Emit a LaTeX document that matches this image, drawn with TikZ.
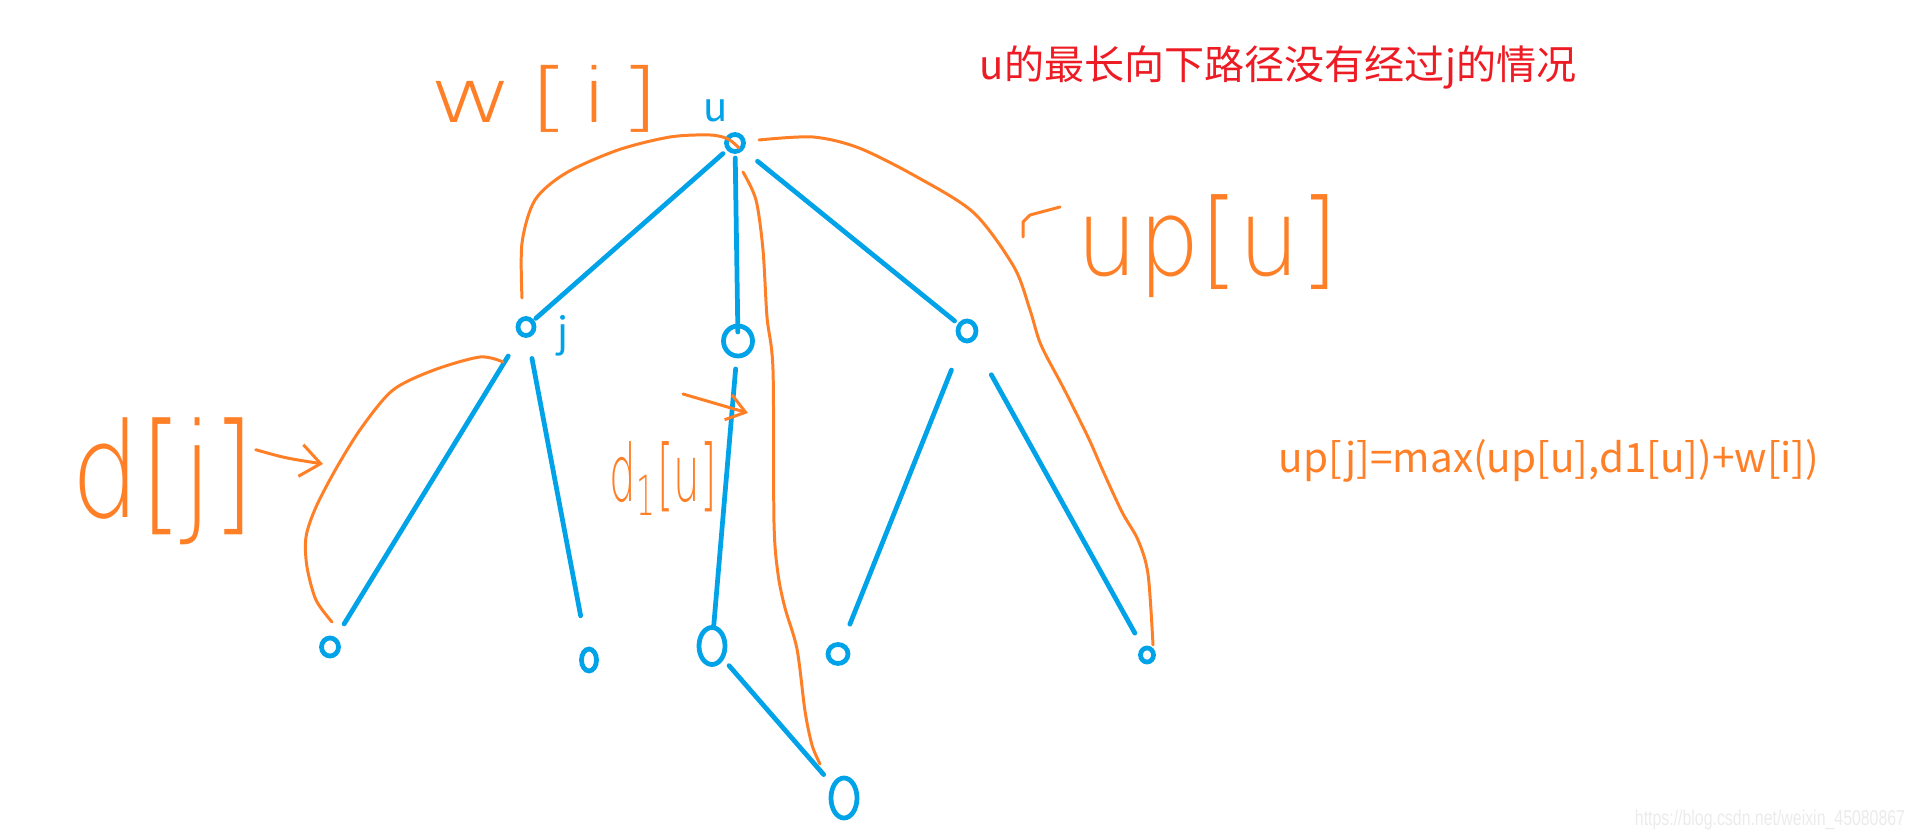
\documentclass[tikz,border=0pt]{standalone}
\usepackage{fontspec}
\usepackage{graphicx}
\usepackage{tikz}
\usetikzlibrary{arrows.meta,shapes.geometric}
\newfontfamily\cjk{Noto Sans CJK SC}
\newfontfamily\handfont{DejaVuSans-ExtraLight.ttf}
\newfontfamily\markfont{Liberation Sans}
\definecolor{treeblue}{HTML}{00A2E8}
\definecolor{penorange}{HTML}{FF7F27}
\definecolor{titlered}{HTML}{ED1C24}
\definecolor{markgray}{HTML}{EBEBEB}

\begin{document}
\begin{tikzpicture}[x=0.01cm, y=-0.01cm,
  vertex/.style={ellipse, draw=treeblue, line width=1.35pt, inner sep=0pt},
  edge/.style={treeblue, line width=1.35pt, line cap=round},
  pen/.style={penorange, line width=0.85pt, line cap=round, line join=round},
  hand/.style={penorange, inner sep=0pt, font=\handfont},
  txt/.style={inner sep=0pt, font=\cjk\fontsize{11.4pt}{13pt}\selectfont}]
  \useasboundingbox (0,0) rectangle (1915,837);
  % tree nodes
  \node[vertex, minimum width=1.7mm, minimum height=1.7mm] (u) at (735,143) {};
  \node[vertex, minimum width=1.6mm, minimum height=1.7mm] (j) at (526,327) {};
  \node[vertex, minimum width=2.9mm, minimum height=3.0mm] (mid) at (738,341) {};
  \node[vertex, minimum width=1.8mm, minimum height=2.0mm] (rgt) at (967,331) {};
  \node[vertex, minimum width=1.7mm, minimum height=1.8mm] (la) at (330,647) {};
  \node[vertex, minimum width=1.5mm, minimum height=2.2mm] (lb) at (589,660) {};
  \node[vertex, minimum width=2.6mm, minimum height=3.7mm] (mc) at (712,646) {};
  \node[vertex, minimum width=2.6mm, minimum height=4.0mm] (gc) at (844,798) {};
  \node[vertex, minimum width=2.0mm, minimum height=1.9mm] (ra) at (838,654) {};
  \node[vertex, minimum width=1.3mm, minimum height=1.4mm] (rb) at (1147,655) {};
  \node[txt, treeblue, anchor=base] (ulab) at (716,122) {u};
  \node[txt, treeblue, anchor=base] (jlab) at (563,347) {j};
  % tree edges
  \foreach \a/\b/\s/\e in {u/j/1.6mm/1.3mm, u/mid/1.5mm/0.9mm, u/rgt/2.9mm/1.6mm,
      j/la/3.4mm/2.7mm, j/lb/3.2mm/4.5mm, mid/mc/2.8mm/2.1mm, mc/gc/2.6mm/3.1mm,
      rgt/ra/4.2mm/3.2mm, rgt/rb/5.0mm/2.5mm}
    \draw[edge, shorten <=\s, shorten >=\e] (\a.center) -- (\b.center);
  % orange strokes
  \draw[pen] plot[smooth] coordinates {(522,298) (522,243) (535,200) (566,173)
    (618,150) (670,137) (710,135) (728,139) (739,148)};
  \draw[pen] plot[smooth] coordinates {(759,140) (813,137) (859,148) (917,177)
    (974,213) (1014,267) (1030,310) (1041,345) (1064,389) (1088,437) (1103,471)
    (1122,512) (1138,540) (1148,574) (1153,645)};
  \draw[pen] plot[smooth] coordinates {(743,172) (756,200) (763,250) (767,317)
    (773,370) (774,523) (778,574) (785,608) (797,649) (805,711) (812,745) (820,764)};
  \draw[pen] plot[smooth] coordinates {(332,622) (316,600) (307,567) (306,537)
    (316,507) (337,467) (362,427) (393,390) (434,370) (480,357) (503,362)};
  \draw[pen] (1023,237) -- (1023,222) -- (1030,215) -- (1060,207);
  % handwritten labels
  \node[hand] (wi) at (545,98.5) {\resizebox*{23mm}{6.7mm}{w\hspace{0.15em}[\hspace{0.1em}i\hspace{0.1em}]}};
  \node[hand] (upu) at (1207.5,246.5) {\resizebox*{26.1mm}{10.3mm}{up[u]}};
  \node[hand] (dj) at (163.5,481.5) {\resizebox*{18.3mm}{12.7mm}{d[j]}};
  \node[hand] (du) at (663.5,478.5) {\resizebox*{10.7mm}{7.3mm}{d\textsubscript{1}[u]}};
  \coordinate (djtip) at (323,464);
  \coordinate (dufrom) at (683,394);
  \coordinate (duto) at (748,413);
  \draw[pen, -{Straight Barb[length=2mm, width=3.2mm]}] (dj.19) .. controls (285,458) .. (djtip);
  \draw[pen, -{Straight Barb[length=1.8mm, width=2.6mm]}] (dufrom) -- (duto);
  % printed texts
  \node[txt, titlered, anchor=base west] (title) at (979,80) {u的最长向下路径没有经过j的情况};
  \node[txt, penorange, anchor=base west, font=\cjk\fontsize{11.5pt}{14pt}\selectfont] (eq)
    at (1278,472) {up[j]=max(up[u],d1[u])+w[i])};
  \node[inner sep=0pt, markgray, font=\markfont] (mark) at (1770,820)
    {\resizebox*{27mm}{2mm}{https://blog.csdn.net/weixin\_45080867}};
\end{tikzpicture}
\end{document}
